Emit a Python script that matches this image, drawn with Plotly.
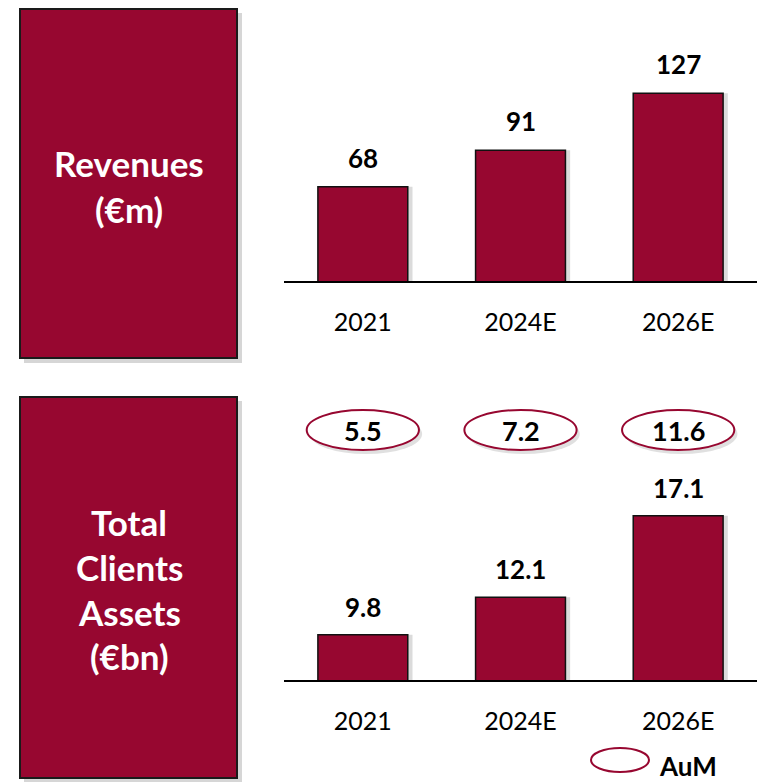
import plotly.graph_objects as go

categories = ["2021", "2024E", "2026E"]
revenues = [68, 91, 127]
client_assets = [9.8, 12.1, 17.1]
aum = [5.5, 7.2, 11.6]

CRIMSON = "#970730"
FONT = "Lato, Roboto, Liberation Sans, sans-serif"
W, H = 757, 782
BAR_W = 0.57


def px(x):
    return x / W


def py(y):
    return 1 - y / H


fig = go.Figure()

shadow_style = dict(marker=dict(color="rgba(0,0,0,0.14)", line=dict(width=0)),
                    width=BAR_W, offset=-BAR_W / 2 + 0.03, showlegend=False, hoverinfo="skip")
bar_style = dict(marker=dict(color=CRIMSON, line=dict(color="#111111", width=1.5)),
                 width=BAR_W, offset=-BAR_W / 2, showlegend=False, hoverinfo="skip")
for vals, xa, ya in [(revenues, "x", "y"), (client_assets, "x2", "y2")]:
    fig.add_trace(go.Bar(x=categories, y=vals, xaxis=xa, yaxis=ya, **shadow_style))
    fig.add_trace(go.Bar(x=categories, y=vals, xaxis=xa, yaxis=ya, **bar_style))

xcommon = dict(type="category", range=[-0.5, len(categories) - 0.5],
               showline=True, linecolor="black", linewidth=2, ticks="outside",
               ticklen=18, tickcolor="rgba(0,0,0,0)",
               tickfont=dict(family=FONT, size=25, color="black"),
               showgrid=False, zeroline=False, fixedrange=True)
ycommon = dict(visible=False, showgrid=False, zeroline=False, fixedrange=True)

fig.update_layout(
    width=W, height=H, margin=dict(l=0, r=0, t=0, b=0),
    paper_bgcolor="white", plot_bgcolor="white", barmode="overlay",
    xaxis=dict(domain=[px(284), 1], anchor="y", **xcommon),
    yaxis=dict(domain=[py(281), py(40)], range=[8.4, 160.6], **ycommon),
    xaxis2=dict(domain=[px(284), 1], anchor="y2", **xcommon),
    yaxis2=dict(domain=[py(680), py(460)], range=[7.02, 20.52], **ycommon),
    showlegend=False,
)

shapes = []
annotations = []

# Value labels above bars (x given as category index)
label_font = dict(family=FONT, size=26, color="black", weight="bold")
for i, v in enumerate(revenues):
    annotations.append(dict(xref="x", yref="y", x=i, y=v, text=str(v), showarrow=False,
                            yanchor="middle", yshift=29, font=label_font))
for i, v in enumerate(client_assets):
    annotations.append(dict(xref="x2", yref="y2", x=i, y=v, text=f"{v:.1f}", showarrow=False,
                            yanchor="middle", yshift=28, font=label_font))

# Left title boxes with shadow
for (y0, y1) in [(9, 358), (397, 778)]:
    shapes.append(dict(type="rect", xref="paper", yref="paper",
                       x0=px(24), x1=px(242), y0=py(y1 + 5), y1=py(y0 + 4),
                       fillcolor="rgba(0,0,0,0.16)", line=dict(width=0), layer="below"))
    shapes.append(dict(type="rect", xref="paper", yref="paper",
                       x0=px(20), x1=px(237), y0=py(y1), y1=py(y0),
                       fillcolor=CRIMSON, line=dict(color="#1a1a1a", width=2)))

box_font = dict(family=FONT, size=35, color="white", weight="bold")
for text, yc in [("Revenues", 162.5), ("(€m)", 209)]:
    annotations.append(dict(xref="paper", yref="paper", x=px(129), y=py(yc), text=text,
                            showarrow=False, font=box_font, xanchor="center", yanchor="middle"))
for text, yc in [("Total", 521.5), ("Clients", 566.5), ("Assets", 611.5), ("(€bn)", 656)]:
    annotations.append(dict(xref="paper", yref="paper", x=px(129), y=py(yc), text=text,
                            showarrow=False, font=box_font, xanchor="center", yanchor="middle"))

# AuM ellipses aligned with categories
for i, v in enumerate(aum):
    shapes.append(dict(type="circle", xref="x2", yref="paper",
                       x0=i - 0.356 + 0.02, x1=i + 0.356 + 0.02, y0=py(454), y1=py(414),
                       fillcolor="rgba(0,0,0,0.12)", line=dict(width=0), layer="above"))
    shapes.append(dict(type="circle", xref="x2", yref="paper",
                       x0=i - 0.356, x1=i + 0.356, y0=py(450), y1=py(410),
                       fillcolor="white", line=dict(color=CRIMSON, width=2), layer="above"))
    annotations.append(dict(xref="x2", yref="paper", x=i, y=py(430),
                            text=f"{v:.1f}", showarrow=False,
                            font=dict(family=FONT, size=27, color="black", weight="bold"),
                            xanchor="center", yanchor="middle"))

# Legend
shapes.append(dict(type="circle", xref="paper", yref="paper",
                   x0=px(591), x1=px(649), y0=py(772), y1=py(748),
                   fillcolor="white", line=dict(color=CRIMSON, width=2)))
annotations.append(dict(xref="paper", yref="paper", x=px(657), y=py(766),
                        text="AuM", showarrow=False,
                        font=dict(family=FONT, size=26, color="black", weight="bold"),
                        xanchor="left", yanchor="middle"))

fig.update_layout(shapes=shapes, annotations=annotations)

fig.write_html("out.html", config={"displayModeBar": False},
               post_script="document.body.style.margin='0';document.body.style.overflow='hidden';")
